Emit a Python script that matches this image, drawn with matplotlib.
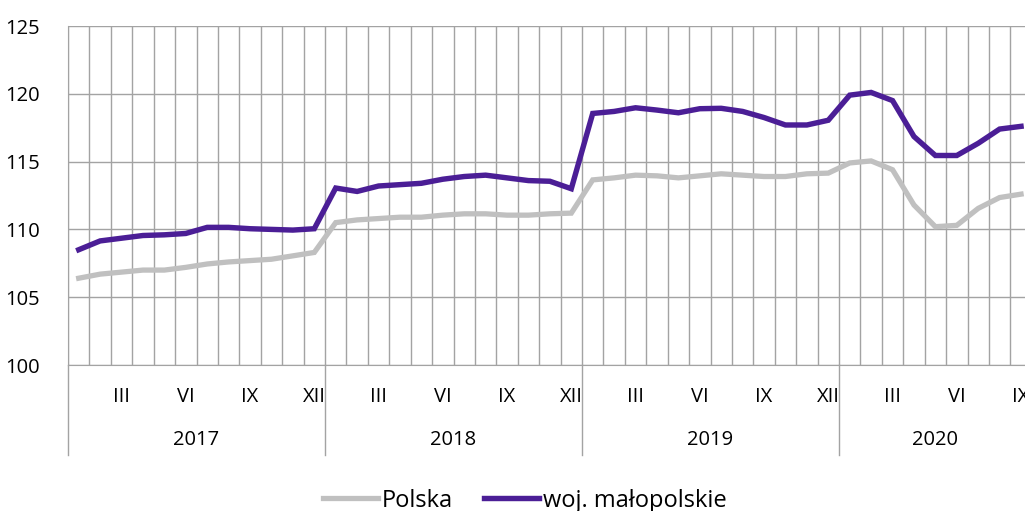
import matplotlib
matplotlib.use("Agg")
import matplotlib.pyplot as plt
import matplotlib.transforms as mtransforms
import numpy as np

plt.rcParams['font.family'] = ['Open Sans', 'DejaVu Sans']

# Data: monthly index, Jan 2017 .. Sep 2020
years = ["2017", "2018", "2019", "2020"]
month_labels = ["III", "VI", "IX", "XII"]
polska = [106.4, 106.7, 106.85, 107.0, 107.0, 107.2, 107.45, 107.6, 107.7, 107.8, 108.05, 108.3,
          110.5, 110.7, 110.8, 110.9, 110.9, 111.05, 111.15, 111.15, 111.05, 111.05, 111.15, 111.2,
          113.65, 113.8, 114.0, 113.95, 113.8, 113.95, 114.1, 114.0, 113.9, 113.9, 114.1, 114.15,
          114.9, 115.05, 114.4, 111.8, 110.2, 110.3, 111.55, 112.35, 112.6]
malopolskie = [108.5, 109.15, 109.35, 109.55, 109.6, 109.7, 110.15, 110.15, 110.05, 110.0, 109.95, 110.05,
               113.05, 112.8, 113.2, 113.3, 113.4, 113.7, 113.9, 114.0, 113.8, 113.6, 113.55, 113.0,
               118.55, 118.7, 118.97, 118.8, 118.6, 118.9, 118.93, 118.7, 118.25, 117.7, 117.7, 118.05,
               119.9, 120.1, 119.5, 116.85, 115.45, 115.45, 116.35, 117.4, 117.6]

grid_c = "#a3a3a3"
x = np.arange(len(polska))
n = len(polska)

fig = plt.figure(figsize=(10.25, 5.11), dpi=100)
ax = fig.add_axes([68 / 1025, (511 - 365) / 511, (1025 - 68) / 1025, (365 - 26) / 511])

ax.plot(x, polska, color="#c0c0c0", lw=3.8, solid_joinstyle="miter", label="Polska", zorder=3)
ax.plot(x, malopolskie, color="#4b1e96", lw=3.9, solid_joinstyle="miter", label="woj. małopolskie", zorder=4)

ax.set_yticks(np.arange(100, 126, 5))
ax.set_xticks(np.arange(-0.5, 48, 1), minor=True)
ax.set_xticks(np.arange(2, n, 3))
ax.set_xticklabels([month_labels[i % 4] for i in range(len(np.arange(2, n, 3)))])
ax.set_xlim(-0.5, (1025 - 68) / (257 / 12) - 0.5)
ax.set_ylim(100, 125)
ax.grid(True, axis="y", color=grid_c, lw=1)
ax.grid(True, axis="x", which="minor", color=grid_c, lw=1)
ax.tick_params(axis="both", which="both", length=0, labelsize=14.5, colors="black")
ax.tick_params(axis="x", pad=16)
ax.tick_params(axis="y", pad=20)
for s in ["top", "right"]:
    ax.spines[s].set_visible(False)
for s in ["left", "bottom"]:
    ax.spines[s].set_color(grid_c)
ax.set_axisbelow(True)

# year labels (centred on each year's months) and separators
trans = mtransforms.blended_transform_factory(ax.transData, ax.transAxes)
sep_bottom = -(455 - 365) / 339
for i, yr in enumerate(years):
    start = i * 12
    end = min(start + 12, n)
    ax.text((start + end - 1) / 2, -(440 - 365) / 339, yr, transform=trans,
            ha="center", va="center", fontsize=14.5)
for b in [-0.5, 11.5, 23.5, 35.5]:
    ax.plot([b, b], [0, sep_bottom], transform=trans, color=grid_c, lw=1, clip_on=False)

fig.legend(loc="lower center", bbox_to_anchor=(0.512, -0.045), ncol=2, frameon=False,
           fontsize=17, handlelength=2.35, handletextpad=0.17, columnspacing=1.3)

fig.savefig("out.png", dpi=100)
